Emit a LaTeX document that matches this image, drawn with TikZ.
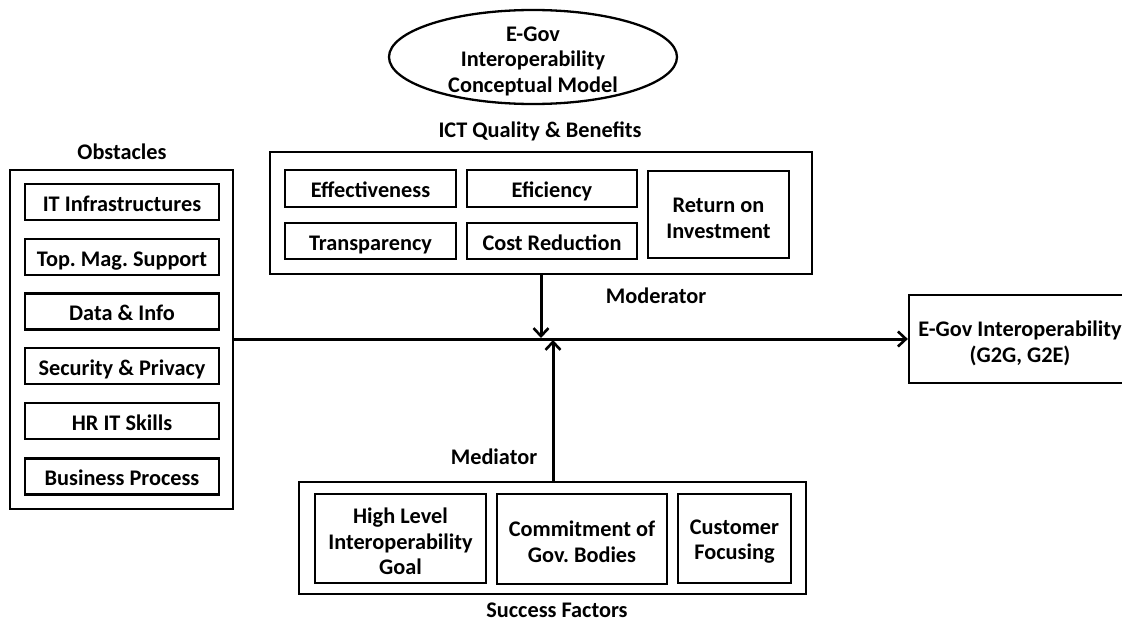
\documentclass[tikz,border=0pt]{standalone}
\usepackage{fontspec}
\setmainfont{Carlito}
\frenchspacing
\usetikzlibrary{arrows.meta,shapes.geometric}
\newcommand\onestrut{\rule[-4pt]{0pt}{26pt}}
\tikzset{
  lbl/.style={font=\fontsize{22.3}{25.5}\selectfont\bfseries, align=center, inner sep=0pt},
  txt/.style={lbl, execute at begin node=\onestrut, execute at end node=\onestrut},
  outerbox/.style={draw, line width=2.3pt, rectangle, inner sep=0pt},
  itembox/.style={draw, line width=2.3pt, rectangle, inner sep=0pt, txt},
  conn/.style={line width=3pt, -{Straight Barb[length=8pt,width=15pt,line width=2.6pt]}}
}
\begin{document}
\begin{tikzpicture}[x=1pt,y=-1pt]
\useasboundingbox (0,0) rectangle (1122,621);
\clip (0,0) rectangle (1122,621);
\fill[white] (0,0) rectangle (1122,621);

% Title ellipse
\node[draw, ellipse, line width=2.3pt, minimum width=288pt, minimum height=94pt, inner sep=0pt] (title) at (533,57) {};
\node[lbl] (titletxt) at ([yshift=-4pt]title.center) {E-Gov\\Interoperability\\Conceptual Model};

% Obstacles
\node[lbl, anchor=base] (obstlbl) at (122,159) {Obstacles};
\node[outerbox, minimum width=223pt, minimum height=339pt] (obst) at (121.5,339.5) {};
\node[itembox, minimum width=194pt, minimum height=36pt] (o1) at (122,202) {IT Infrastructures};
\node[itembox, minimum width=194pt, minimum height=36pt] (o2) at (122,257) {Top. Mag. Support};
\node[itembox, minimum width=194pt, minimum height=36pt] (o3) at (122,311.5) {Data \& Info};
\node[itembox, minimum width=194pt, minimum height=36pt] (o4) at (122,366) {Security \& Privacy};
\node[itembox, minimum width=194pt, minimum height=36pt] (o5) at (122,421) {HR IT Skills};
\node[itembox, minimum width=194pt, minimum height=36pt] (o6) at (122,476.5) {Business Process};

% ICT Quality & Benefits
\node[lbl, anchor=base] (ictlbl) at (540,137) {ICT Quality \& Benefits};
\node[outerbox, minimum width=542pt, minimum height=122pt] (ict) at (541,213) {};
\node[itembox, minimum width=171pt, minimum height=37pt] (eff) at (370.5,188.5) {Effectiveness};
\node[itembox, minimum width=170pt, minimum height=37pt] (efi) at (552,188.5) {Eficiency};
\node[itembox, minimum width=171pt, minimum height=36pt] (tra) at (370.5,241) {Transparency};
\node[itembox, minimum width=170pt, minimum height=36pt] (cost) at (552,241) {Cost Reduction};
\node[outerbox, minimum width=141pt, minimum height=87pt] (roi) at (718.5,214.5) {};
\node[lbl] (roitxt) at ([yshift=-4pt]roi.center) {Return on\\Investment};

% Result
\node[outerbox, minimum width=222pt, minimum height=88pt] (egov) at (1020,339) {};
\node[lbl] (egovtxt) at (1020,343.5) {E-Gov Interoperability\\(G2G, G2E)};

% Success factors
\node[outerbox, minimum width=507pt, minimum height=112pt] (succ) at (552.5,538) {};
\node[outerbox, minimum width=171pt, minimum height=89pt] (s1) at (400.5,538.5) {};
\node[lbl] (s1txt) at ([yshift=-3pt]s1.center) {High Level\\Interoperability\\Goal};
\node[outerbox, minimum width=170pt, minimum height=90pt] (s2) at (582,539) {};
\node[lbl] (s2txt) at ([yshift=-3pt]s2.center) {Commitment of\\Gov. Bodies};
\node[outerbox, minimum width=113pt, minimum height=89pt] (s3) at (734.5,538.5) {};
\node[lbl] (s3txt) at ([yshift=-3pt]s3.center) {Customer\\Focusing};
\node[lbl, anchor=base] (succlbl) at (557,617) {Success Factors};

% Labels
\node[lbl, anchor=base] (modlbl) at (656,303) {Moderator};
\node[lbl, anchor=base] (medlbl) at (494,464) {Mediator};

% Connectors
\coordinate (modend) at (541,338);
\coordinate (medend) at (553,340);
\draw[conn] (obst.east |- egov.west) -- (egov.west);
\draw[conn] (ict.south -| modend) -- (modend);
\draw[conn] (succ.north -| medend) -- (medend);
\end{tikzpicture}
\end{document}
